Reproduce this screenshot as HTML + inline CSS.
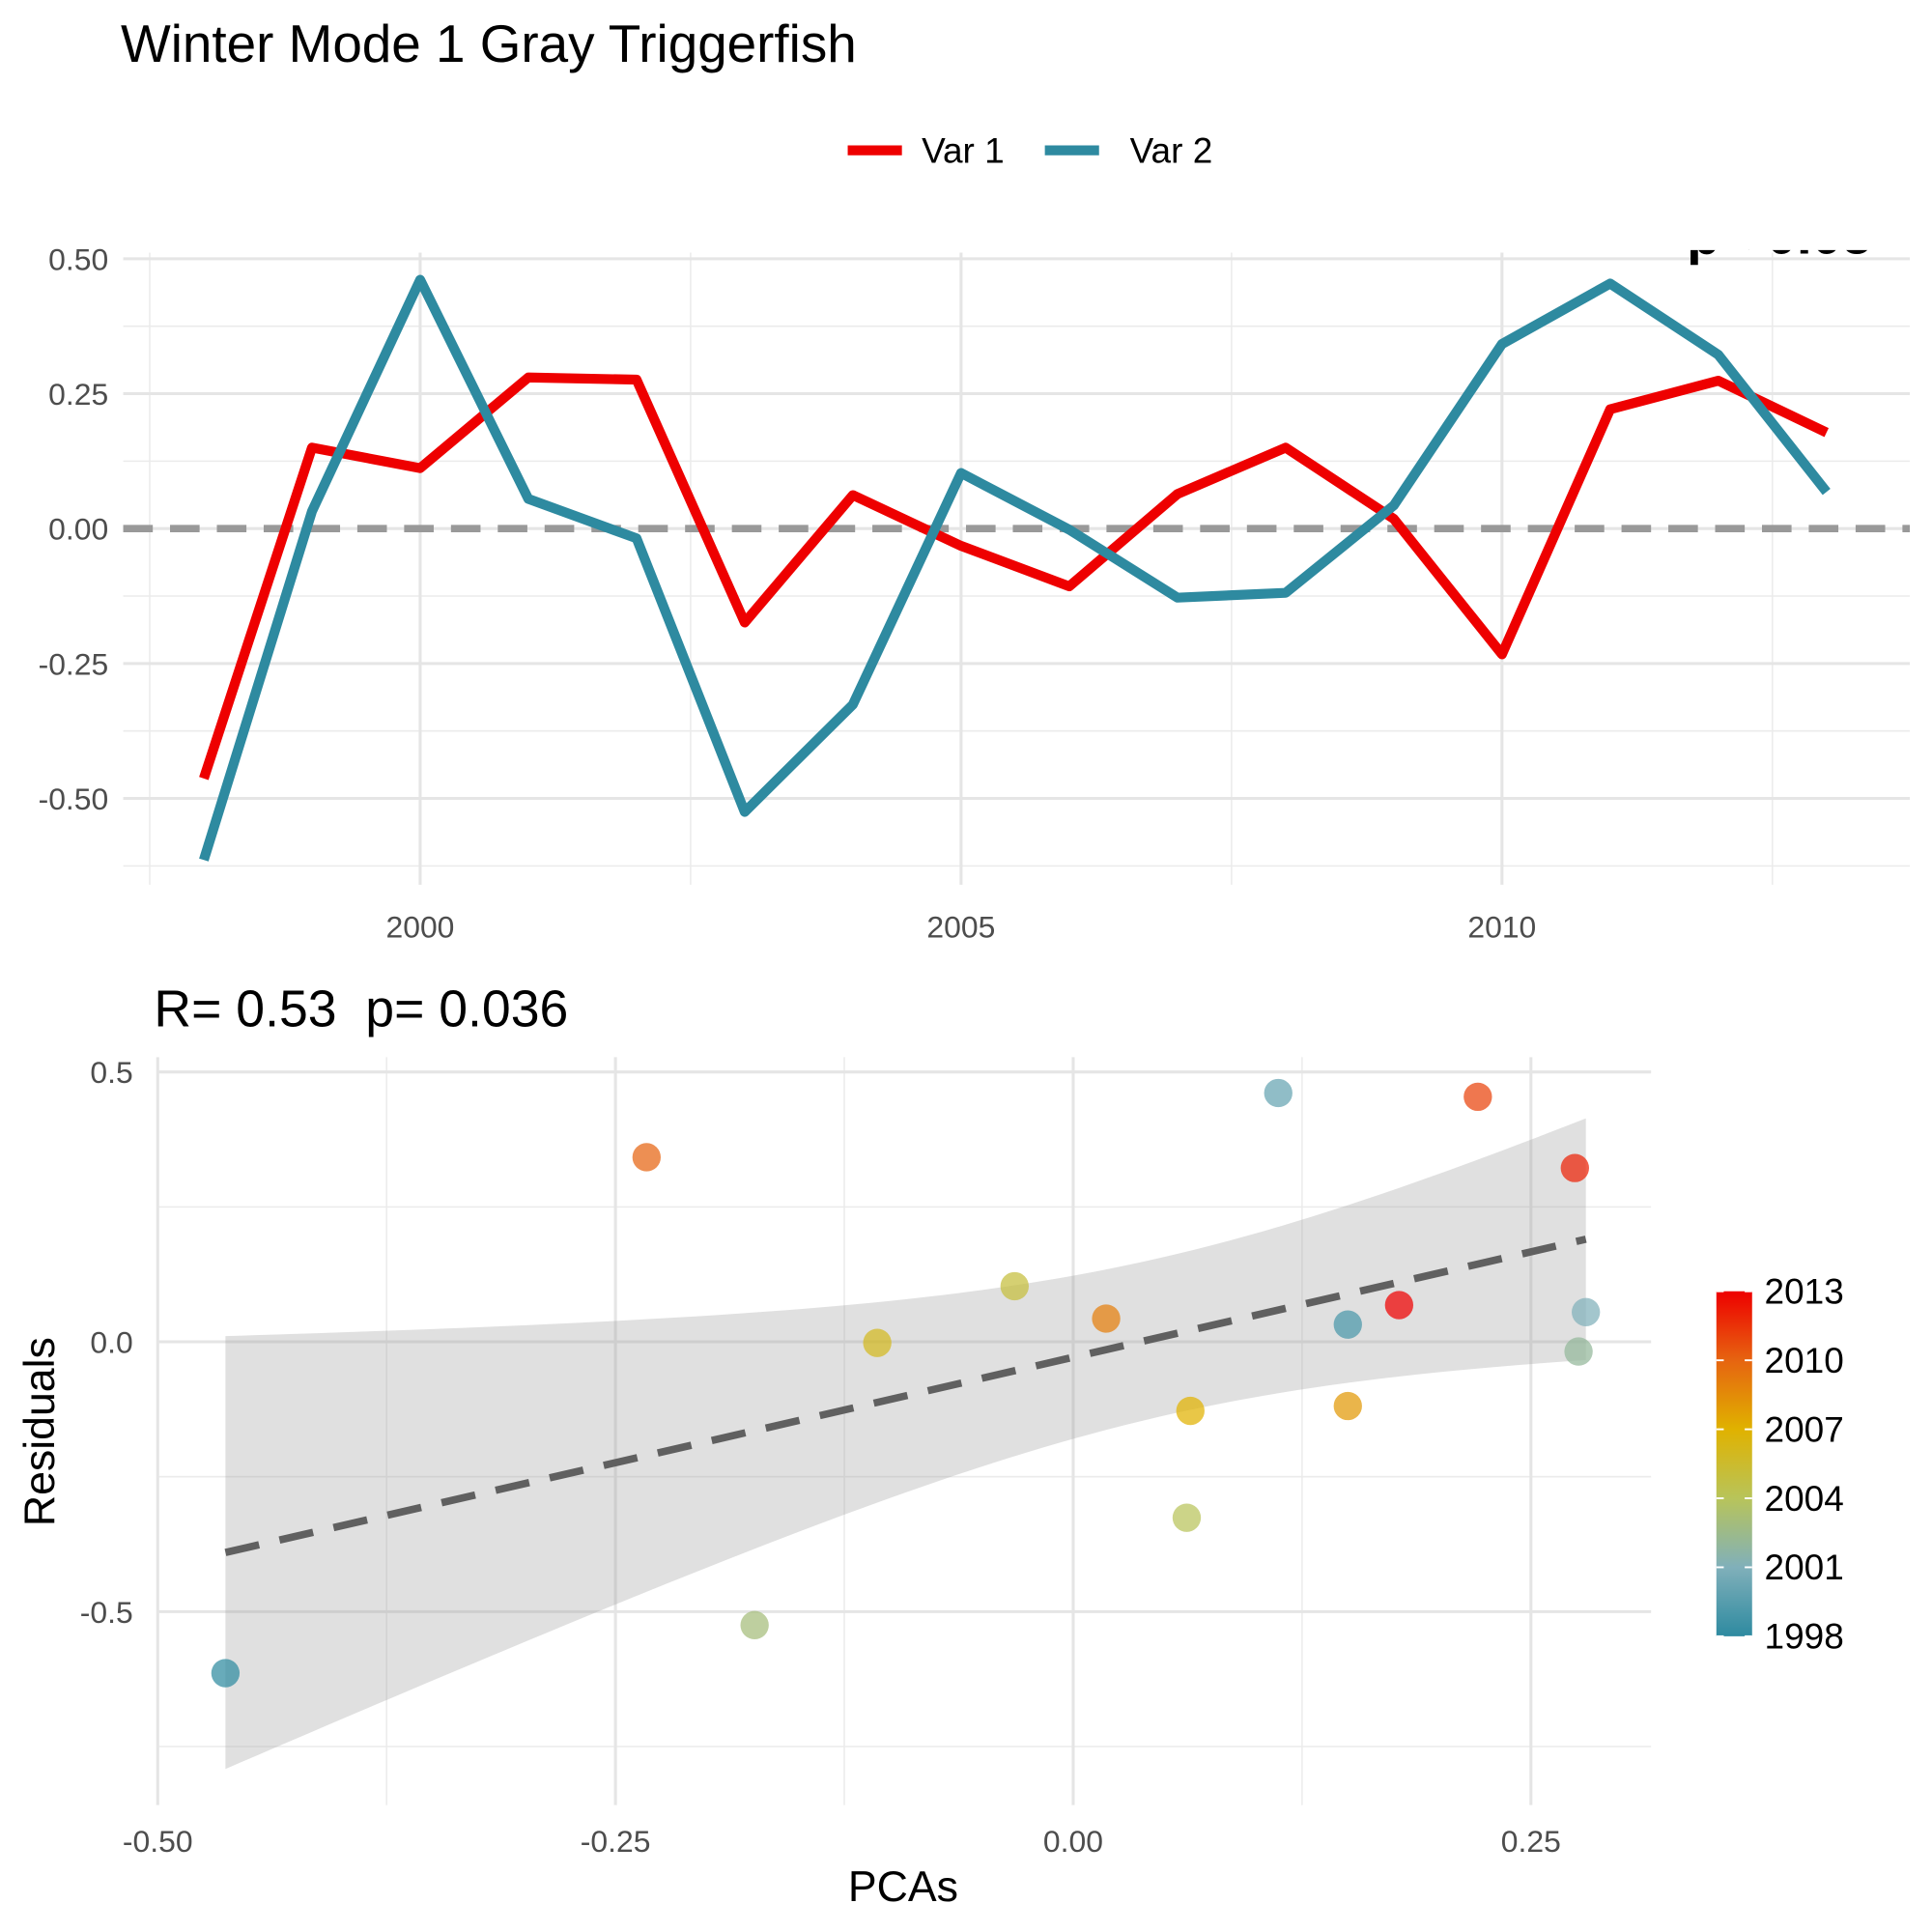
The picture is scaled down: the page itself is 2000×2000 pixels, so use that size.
<!DOCTYPE html>
<html><head><meta charset="utf-8"><style>
html,body{margin:0;padding:0;background:#fff}
svg{display:block}
text{font-family:"Liberation Sans",Arial,sans-serif}
</style></head><body>
<svg id="chart" width="2000" height="2000" viewBox="0 0 1568 1568" xmlns="http://www.w3.org/2000/svg">
<defs><clipPath id="pclip"><rect x="1300" y="203" width="268" height="12"/></clipPath></defs>
<text x="98" y="50" font-size="43" fill="#000">Winter Mode 1 Gray Triggerfish</text>
<g>
<line x1="688" y1="122" x2="732" y2="122" stroke="#EE0000" stroke-width="8"/>
<text x="748" y="132" font-size="29" fill="#000">Var 1</text>
<line x1="848" y1="122" x2="892" y2="122" stroke="#2E8AA0" stroke-width="8"/>
<text x="917" y="132" font-size="29" fill="#000">Var 2</text>
</g>
<g id="topPanel"></g>
<g id="botPanel"></g>
<text x="125" y="833" font-size="42" fill="#000">R= 0.53&#160; p= 0.036</text>
<text transform="translate(44,1162) rotate(-90)" text-anchor="middle" font-size="35" fill="#000">Residuals</text>
<text x="733" y="1543" text-anchor="middle" font-size="35" fill="#000">PCAs</text>
</svg>
<script>
const years = [1998,1999,2000,2001,2002,2003,2004,2005,2006,2007,2008,2009,2010,2011,2012,2013];
const var1 = [-0.463,0.150,0.112,0.280,0.276,-0.174,0.062,-0.032,-0.107,0.064,0.150,0.018,-0.233,0.221,0.274,0.178];
const var2 = [-0.614,0.032,0.461,0.055,-0.018,-0.525,-0.326,0.103,-0.002,-0.128,-0.119,0.043,0.342,0.454,0.322,0.068];
const topYTicks = [0.5,0.25,0,-0.25,-0.5];
const topYLabels = ["0.50","0.25","0.00","-0.25","-0.50"];
const topXTicks = [2000,2005,2010];
const botXTicks = [-0.5,-0.25,0,0.25];
const botXLabels = ["-0.50","-0.25","0.00","0.25"];
const botYTicks = [0.5,0,-0.5];
const botYLabels = ["0.5","0.0","-0.5"];
const cbTicks = [2013,2010,2007,2004,2001,1998];

const NS="http://www.w3.org/2000/svg";
function mk(parent,tag,attrs,txt){const e=document.createElementNS(NS,tag);for(const k in attrs)e.setAttribute(k,attrs[k]);if(txt!==undefined)e.textContent=txt;parent.appendChild(e);return e;}
const TF=25;

const tx=y=>341+(y-2000)*87.8;
const ty=v=>429-v*438;
const tp=document.getElementById('topPanel');
const TL=100,TR=1550,TT=205,TB=708;
for(let v=-0.625;v<=0.625;v+=0.25){const y=ty(v);if(y<TT||y>TB)continue;
 const l=mk(tp,'line',{x1:TL,x2:TR,y1:y,y2:y,stroke:'#ebebeb','stroke-width':1.2});
 
 }
for(const yr of [1997.5,2002.5,2007.5,2012.5]){const x=tx(yr);
 const l=mk(tp,'line',{x1:x,x2:x,y1:TT,y2:TB+10,stroke:'#ebebeb','stroke-width':1.2});
 
 }
topYTicks.forEach((v,i)=>{const y=ty(v);
 const l=mk(tp,'line',{x1:TL,x2:TR,y1:y,y2:y,stroke:'#e5e5e5','stroke-width':2.4});
 
 
 const t=mk(tp,'text',{x:88,y:y+9,'text-anchor':'end','font-size':TF,fill:'#4d4d4d'},topYLabels[i]);
 
 });
topXTicks.forEach(yr=>{const x=tx(yr);
 const l=mk(tp,'line',{x1:x,x2:x,y1:TT,y2:TB+10,stroke:'#e5e5e5','stroke-width':2.4});
 
 
 const t=mk(tp,'text',{x:x,y:761,'text-anchor':'middle','font-size':TF,fill:'#4d4d4d'},String(yr));
 
 });
const zl=mk(tp,'line',{x1:TL,x2:TR,y1:ty(0),y2:ty(0),stroke:'#999','stroke-width':6,'stroke-dasharray':'24 14'});


const p1=mk(tp,'polyline',{points:years.map((y,i)=>tx(y)+','+ty(var1[i])).join(' '),fill:'none',stroke:'#EE0000','stroke-width':8,'stroke-linejoin':'round'});


const p2=mk(tp,'polyline',{points:years.map((y,i)=>tx(y)+','+ty(var2[i])).join(' '),fill:'none',stroke:'#2E8AA0','stroke-width':8,'stroke-linejoin':'round'});


const pt=mk(tp,'text',{x:1369,y:206,'font-size':44,'font-weight':'bold',fill:'#000','clip-path':'url(#pclip)'},'p< 0.05');



const bx=v=>871+v*1486;
const by=v=>1089-v*438;
const bp=document.getElementById('botPanel');
const BL=100,BR=1340,BT=858,BB=1460;
for(const v of [0.75,0.25,-0.25,-0.75]){const y=by(v);if(y<BT||y>BB)continue;
 const l=mk(bp,'line',{x1:BL+28,x2:BR,y1:y,y2:y,stroke:'#ebebeb','stroke-width':1.2});
 
 }
for(const v of [-0.375,-0.125,0.125]){const x=bx(v);
 const l=mk(bp,'line',{x1:x,x2:x,y1:BT,y2:BB+5,stroke:'#ebebeb','stroke-width':1.2});
 
 }
botYTicks.forEach((v,i)=>{const y=by(v);
 const l=mk(bp,'line',{x1:BL+28,x2:BR,y1:y,y2:y,stroke:'#e5e5e5','stroke-width':2.4});
 
 
 const t=mk(bp,'text',{x:108,y:y+9,'text-anchor':'end','font-size':TF,fill:'#4d4d4d'},botYLabels[i]);
 
 });
botXTicks.forEach((v,i)=>{const x=bx(v);
 const l=mk(bp,'line',{x1:x,x2:x,y1:BT,y2:BB+5,stroke:'#e5e5e5','stroke-width':2.4});
 
 
 const t=mk(bp,'text',{x:x,y:1503,'text-anchor':'middle','font-size':TF,fill:'#4d4d4d'},botXLabels[i]);
 
 });

const n=var1.length;const mx=var1.reduce((a,b)=>a+b)/n, my=var2.reduce((a,b)=>a+b)/n;
let sxx=0,sxy=0;for(let i=0;i<n;i++){sxx+=(var1[i]-mx)**2;sxy+=(var1[i]-mx)*(var2[i]-my);}
const b1=sxy/sxx,b0=my-b1*mx;let sse=0;for(let i=0;i<n;i++)sse+=(var2[i]-b0-b1*var1[i])**2;
const s=Math.sqrt(sse/(n-2)),tq=2.145;
const xmin=Math.min(...var1),xmax=Math.max(...var1);
const up=[],lo=[];for(let k=0;k<=80;k++){const x=xmin+(xmax-xmin)*k/80;const f=b0+b1*x;const se=s*Math.sqrt(1/n+(x-mx)**2/sxx);
 up.push(bx(x)+','+by(f+tq*se));lo.unshift(bx(x)+','+by(f-tq*se));}
const rib=mk(bp,'polygon',{points:up.concat(lo).join(' '),fill:'#999','fill-opacity':0.3});


const rl=mk(bp,'line',{x1:bx(xmin),y1:by(b0+b1*xmin),x2:bx(xmax),y2:by(b0+b1*xmax),stroke:'#606060','stroke-width':6,'stroke-dasharray':'28 17'});



const pal=[[46,138,160],[128,176,186],[184,196,90],[224,178,0],[230,100,16],[238,0,0]];
function col(yr){const t=(yr-1998)/15*(pal.length-1);const i=Math.min(Math.floor(t),pal.length-2);const f=t-i;
 const c=pal[i].map((v,j)=>Math.round(v+(pal[i+1][j]-v)*f));return 'rgb('+c.join(',')+')';}
years.forEach((yr,i)=>{const c=mk(bp,'circle',{cx:bx(var1[i]),cy:by(var2[i]),r:11.5,fill:col(yr),'fill-opacity':0.72});
 
 });

const CX=1393,CW=29,CT=1048,CB=1328;
const defs=mk(bp,'defs',{});const g=mk(defs,'linearGradient',{id:'cg',x1:0,y1:1,x2:0,y2:0});
for(let k=0;k<=15;k++)mk(g,'stop',{offset:k/15,'stop-color':col(1998+k)});
const cb=mk(bp,'rect',{x:CX,y:CT,width:CW,height:CB-CT,fill:'url(#cg)'});


const cy=yr=>CB-(yr-1998)/15*(CB-CT);
cbTicks.forEach(yr=>{const y=cy(yr);
 mk(bp,'line',{x1:CX,x2:CX+6,y1:y,y2:y,stroke:'#fff','stroke-width':1.5});
 mk(bp,'line',{x1:CX+CW-6,x2:CX+CW,y1:y,y2:y,stroke:'#fff','stroke-width':1.5});
 const t=mk(bp,'text',{x:1432,y:y+10,'font-size':29,fill:'#000'},String(yr));
 
 });
</script>
</body></html>
